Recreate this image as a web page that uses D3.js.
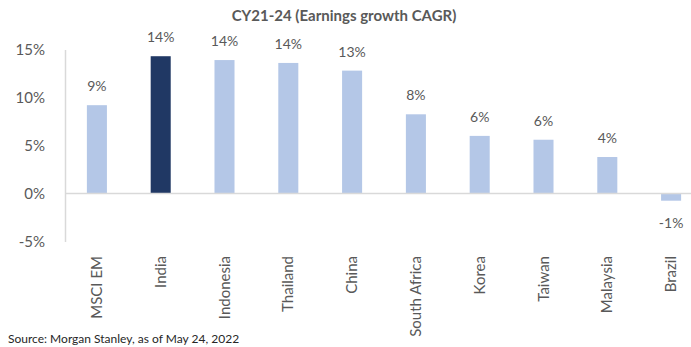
<!DOCTYPE html>
<html>
<head>
<meta charset="utf-8">
<script src="https://cdn.jsdelivr.net/npm/d3@7"></script>
<style>
  html, body { margin: 0; padding: 0; background: #fff; overflow: hidden; }
  svg { display: block; font-family: Lato, "Open Sans", sans-serif; }
</style>
</head>
<body>
<svg id="chart" width="691" height="347"></svg>
<script>
// Earnings growth CAGR, CY21-24 (%)
const categories = ["MSCI EM", "India", "Indonesia", "Thailand", "China", "South Africa", "Korea", "Taiwan", "Malaysia", "Brazil"];
const growth = [9.2, 14.3, 13.9, 13.6, 12.8, 8.25, 6.0, 5.6, 3.8, -0.75];
const highlight = ["India"];
const yTicks = [-5, 0, 5, 10, 15];

const svg = d3.select("#chart");
const textColor = "#595959";
const pct = v => Math.round(v) + "%";

const x = d3.scaleBand().domain(categories).range([65, 703]).paddingInner(0.686).paddingOuter(0.343);
const y = d3.scaleLinear().domain([-5, 15]).range([241.5, 49.5]);

// title
svg.append("text")
  .attr("x", 344).attr("y", 21)
  .attr("text-anchor", "middle")
  .attr("font-size", 15).attr("font-weight", "bold")
  .attr("fill", textColor)
  .text("CY21-24 (Earnings growth CAGR)");

// y axis
const yAxis = svg.append("g")
  .attr("transform", "translate(65,0)")
  .call(d3.axisLeft(y).tickValues(yTicks).tickFormat(pct).tickSize(0).tickPadding(20));
yAxis.select(".domain").attr("stroke", "#d9d9d9").attr("stroke-width", 1.5);
yAxis.selectAll("text").attr("font-size", 15).attr("fill", textColor).attr("font-family", "Lato, 'Open Sans', sans-serif");

// bars
svg.append("g").selectAll("rect")
  .data(categories)
  .join("rect")
  .attr("x", d => x(d))
  .attr("width", x.bandwidth())
  .attr("y", (d, i) => y(Math.max(0, growth[i])))
  .attr("height", (d, i) => Math.abs(y(growth[i]) - y(0)))
  .attr("fill", d => highlight.includes(d) ? "#203864" : "#b4c7e7");

// zero line
svg.append("line")
  .attr("x1", 65).attr("x2", 703)
  .attr("y1", y(0)).attr("y2", y(0))
  .attr("stroke", "#d9d9d9").attr("stroke-width", 1.5);

// value labels
svg.append("g").selectAll("text")
  .data(categories)
  .join("text")
  .attr("x", d => x(d) + x.bandwidth() / 2)
  .attr("y", (d, i) => growth[i] >= 0 ? y(growth[i]) - 14 : y(growth[i]) + 27)
  .attr("text-anchor", "middle")
  .attr("font-size", 14)
  .attr("fill", textColor)
  .text((d, i) => pct(growth[i]));

// category labels, rotated
svg.append("g").selectAll("text")
  .data(categories)
  .join("text")
  .attr("transform", d => `translate(${x(d) + x.bandwidth() / 2 + 5},256) rotate(-90)`)
  .attr("text-anchor", "end")
  .attr("font-size", 15)
  .attr("fill", textColor)
  .text(d => d);

// source note
svg.append("text")
  .attr("x", 8).attr("y", 343)
  .attr("font-size", 12)
  .attr("fill", "#262626")
  .text("Source: Morgan Stanley, as of May 24, 2022");
</script>
</body>
</html>
